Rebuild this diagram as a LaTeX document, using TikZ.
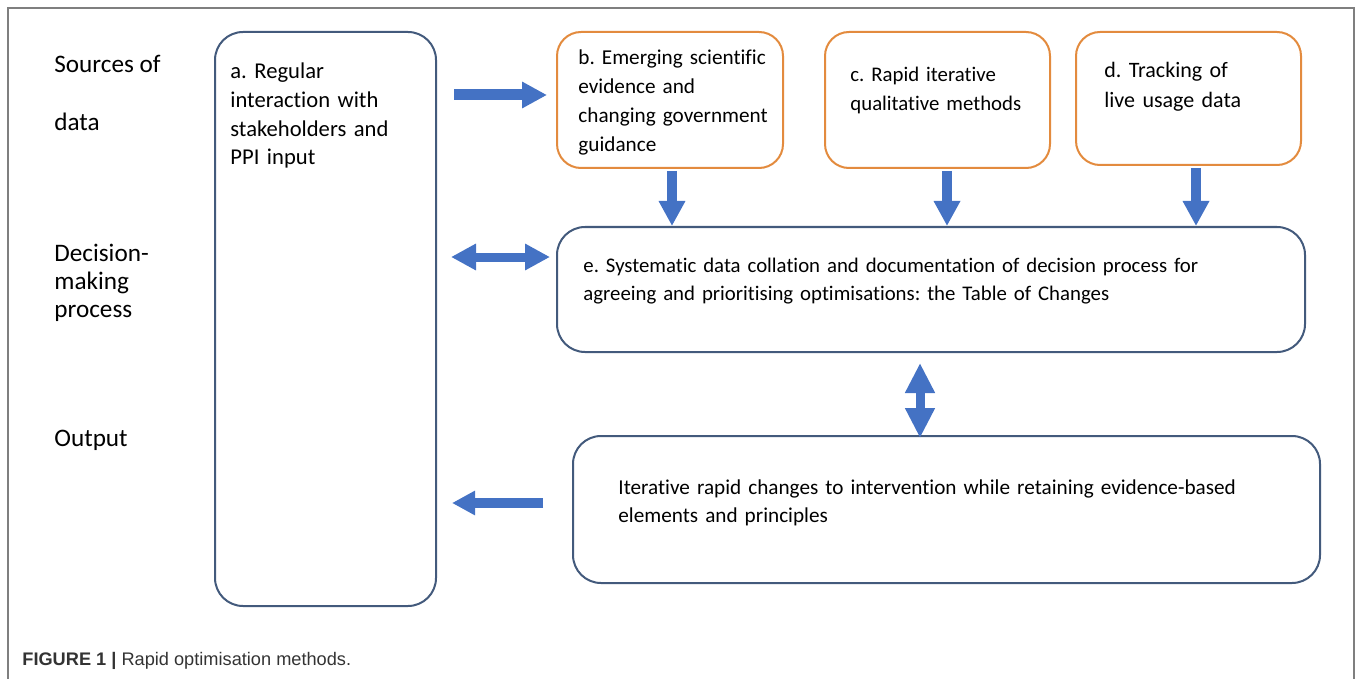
\documentclass[tikz,border=0pt]{standalone}
\usepackage{fontspec}
\setmainfont{Carlito}[Ligatures={NoCommon}]
\newfontfamily\capfont{Liberation Sans}
\usetikzlibrary{arrows.meta}
\definecolor{boxblue}{HTML}{435A7C}
\definecolor{boxorange}{HTML}{E38B3E}
\definecolor{arrblue}{HTML}{4472C4}
\definecolor{framegray}{HTML}{7F7F7F}
\definecolor{capgray}{HTML}{333333}
\tikzset{
  bluebox/.style={draw=boxblue, line width=1pt, rounded corners=14pt, inner sep=0pt},
  orangebox/.style={draw=boxorange, line width=1pt, rounded corners=12pt, inner sep=0pt},
  boxtext/.style={anchor=base west, inner sep=0pt, text width=400pt, align=left,
    font=\fontsize{10.4}{14.3}\selectfont\frenchspacing},
  sidetext/.style={anchor=base west, inner sep=0pt, font=\fontsize{12.6}{14}\selectfont},
  onearrow/.style={draw=arrblue, line width=4.7pt, -{Triangle[width=12.5pt,length=12.5pt]}},
  twoarrow/.style={draw=arrblue, line width=4.5pt, {Triangle[width=12.5pt,length=12.5pt]}-{Triangle[width=12.5pt,length=12.5pt]}}
}
\begin{document}
\begin{tikzpicture}[x=0.5pt,y=-0.5pt]
\useasboundingbox (0,0) rectangle (1358,679);
% frame
\draw[framegray, line width=1pt] (7.5,679) -- (7.5,8) -- (1354,8) -- (1354,679);
% boxes
\node[bluebox, minimum width=110.5pt, minimum height=287pt] (a) at (325.5,319) {};
\node[orangebox, minimum width=113pt, minimum height=68pt] (b) at (670,100) {};
\node[orangebox, minimum width=112.5pt, minimum height=68pt] (c) at (937.5,100) {};
\node[orangebox, minimum width=112.5pt, minimum height=66.5pt] (d) at (1188.5,98.5) {};
\node[bluebox, minimum width=374pt, minimum height=62.5pt] (e) at (931,289.5) {};
\node[bluebox, minimum width=373.5pt, minimum height=73.5pt] (out) at (946.5,509.5) {};
% box texts
\node[boxtext, font=\fontsize{11.3}{14.3}\selectfont\frenchspacing] (ta) at (230,79) {a. Regular\\interaction with\\stakeholders and\\PPI input};
\node[boxtext, font=\fontsize{10.6}{14.5}\selectfont\frenchspacing] (tb) at (578,65) {b. Emerging scientific\\evidence and\\changing government\\guidance};
\node[boxtext] (tc) at (850,82) {c. Rapid iterative\\qualitative methods};
\node[boxtext, font=\fontsize{11}{15}\selectfont\frenchspacing] (td) at (1104,78) {d. Tracking of\\live usage data};
\node[boxtext] (te) at (583,272) {e. Systematic data collation and documentation of decision process for\\agreeing and prioritising optimisations: the Table of Changes};
\node[boxtext, font=\fontsize{10.6}{14.3}\selectfont\frenchspacing] (tout) at (618,494) {Iterative rapid changes to intervention while retaining evidence-based\\elements and principles};
% side labels
\node[sidetext] (s1) at (54,73) {Sources of};
\node[sidetext] (s2) at (54,131) {data};
\node[sidetext] (s3) at (54,261) {Decision-};
\node[sidetext] (s4) at (54,289) {making};
\node[sidetext] (s5) at (54,317) {process};
\node[sidetext] (s6) at (54,446) {Output};
% arrow ends
\coordinate (r1s) at (454,95);
\coordinate (r1e) at (547,95);
\coordinate (h2s) at (451,257);
\coordinate (h2e) at (550,257);
\coordinate (vdt) at (920,363);
\coordinate (vdb) at (920,438);
\coordinate (l1s) at (543,503);
\coordinate (l1e) at (452,503);
% arrows
\draw[onearrow, line width=5.5pt] (r1s) -- (r1e);
\draw[twoarrow] (h2s) -- (h2e);
\draw[onearrow] ([yshift=-1pt]b.south -| 672,0) -- (672,226);
\draw[onearrow] ([yshift=-1pt]c.south -| 947,0) -- (947,226);
\draw[onearrow] ([yshift=-1pt]d.south -| 1196,0) -- (1196,226);
\draw[twoarrow, {Triangle[width=14pt,length=15pt]}-{Triangle[width=14pt,length=15pt]}] (vdt) -- (vdb);
\draw[onearrow, -{Triangle[width=11.5pt,length=11.5pt]}] (l1s) -- (l1e);
% caption
\node[anchor=base west, inner sep=0pt, text=capgray, font=\capfont\fontsize{9.1}{11}\selectfont] (cap) at (22,665) {\textbf{FIGURE 1 |} Rapid optimisation methods.};
\end{tikzpicture}
\end{document}
